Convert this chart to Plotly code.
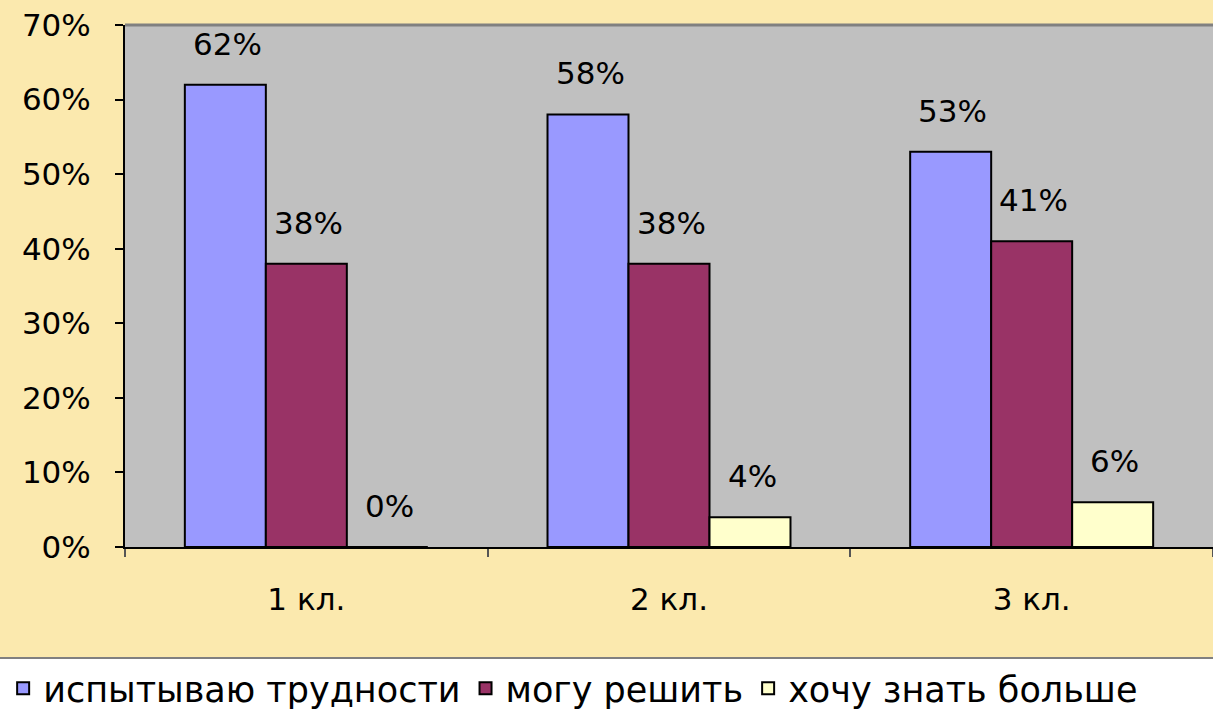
import plotly.graph_objects as go

categories = ["1 кл.", "2 кл.", "3 кл."]
series_names = ["испытываю трудности", "могу решить", "хочу знать больше"]
difficult = [62, 58, 53]
can_solve = [38, 38, 41]
want_more = [0, 4, 6]
y_ticks = [0, 10, 20, 30, 40, 50, 60, 70]

series_values = [difficult, can_solve, want_more]
colors = ["#9999FF", "#993366", "#FFFFCC"]

FONT = "DejaVu Sans"
fig = go.Figure()
for name, vals, col in zip(series_names, series_values, colors):
    fig.add_trace(go.Bar(
        x=categories, y=vals, name=name,
        marker=dict(color=col, line=dict(color="black", width=2)),
    ))

bar_px = 81
shifts = [-bar_px, 0, bar_px]
for vals, sh in zip(series_values, shifts):
    for c, v in zip(categories, vals):
        fig.add_annotation(
            x=c, y=v, xref="x", yref="y", text=f"{v}%", showarrow=False,
            xshift=sh + 2, yshift=21, yanchor="bottom",
            font=dict(family=FONT, size=31, color="black"),
        )

fig.update_layout(
    width=1213, height=718,
    margin=dict(l=125, r=0, t=25, b=171),
    paper_bgcolor="#FBE9AE",
    plot_bgcolor="#C0C0C0",
    barmode="group", bargap=0.33, bargroupgap=0,
    font=dict(family=FONT, size=31, color="black"),
    legend=dict(
        orientation="h", x=-0.112, xanchor="left", y=-0.272, yanchor="middle",
        font=dict(family=FONT, size=35, color="black"),
        bgcolor="rgba(0,0,0,0)", itemwidth=30, tracegroupgap=0,
    ),
    shapes=[
        dict(type="rect", xref="paper", yref="paper", x0=-0.2, x1=1.1,
             y0=-0.34, y1=-0.2126, fillcolor="white", line=dict(width=0),
             layer="below"),
        dict(type="line", xref="paper", yref="paper", x0=-0.2, x1=1.1,
             y0=-0.2126, y1=-0.2126, line=dict(color="#808080", width=2)),
        dict(type="line", xref="paper", yref="paper", x0=0, x1=1,
             y0=1, y1=1, line=dict(color="#808080", width=3)),
    ],
)
fig.update_yaxes(
    range=[0, 70], tickvals=y_ticks, ticktext=[f"{t}%" for t in y_ticks],
    showgrid=False, zeroline=False, showline=True, linecolor="black", linewidth=2,
    ticks="outside", ticklen=8, tickcolor="black", tickwidth=2,
    ticklabelstandoff=18,
)
fig.update_xaxes(
    showgrid=False, showline=True, linecolor="black", linewidth=2,
    ticks="outside", ticklen=8, tickcolor="#555555", tickwidth=2,
    tickson="boundaries", ticklabelstandoff=24,
)

fig.write_html("out.html")
